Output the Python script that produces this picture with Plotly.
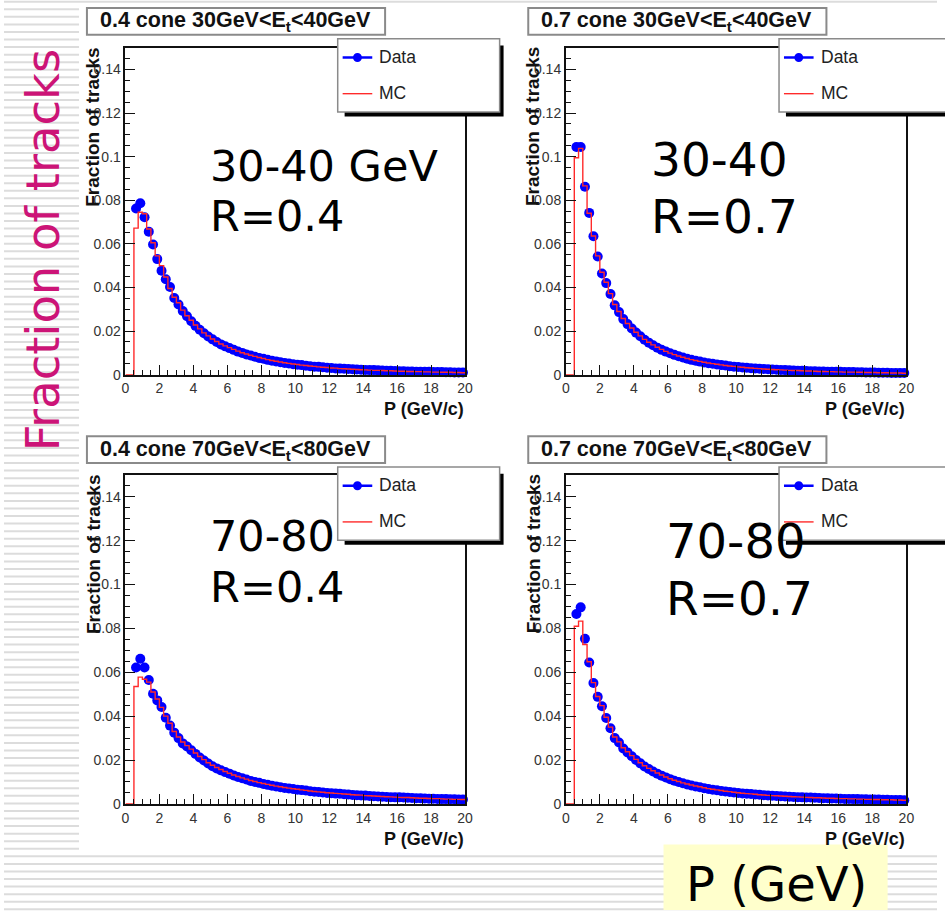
import numpy as np
import plotly.graph_objects as go

W, H = 945, 918

# Momentum binning (GeV/c): 0.25 GeV bins, first filled bin starts at 0.5
BIN_WIDTH = 0.25
P_FIRST = 0.5
P_LAST = 20.0

# ---- fraction of tracks per bin -------------------------------------------
data_r04_30_40 = [
    0.0762, 0.0786, 0.0722, 0.0656, 0.0597, 0.0530, 0.0477, 0.0438, 0.0402, 0.0352,
    0.0322, 0.0292, 0.0268, 0.0245, 0.0224, 0.0206, 0.0190, 0.0175, 0.0162, 0.0150,
    0.0139, 0.0130, 0.0122, 0.0114, 0.0106, 0.0100, 0.0093, 0.0088, 0.0082, 0.0077,
    0.0073, 0.0068, 0.0064, 0.0061, 0.0057, 0.0054, 0.0051, 0.0048, 0.0046, 0.0044,
    0.0041, 0.0039, 0.0037, 0.0036, 0.0034, 0.0032, 0.0031, 0.0029, 0.0028, 0.0027,
    0.0026, 0.0025, 0.0024, 0.0023, 0.0022, 0.0021, 0.0021, 0.0020, 0.0019, 0.0018,
    0.0018, 0.0017, 0.0016, 0.0016, 0.0015, 0.0015, 0.0014, 0.0014, 0.0013, 0.0013,
    0.0012, 0.0012, 0.0012, 0.0011, 0.0011, 0.0010, 0.0010, 0.0010,
]
mc_r04_30_40 = [
    0.0672, 0.0745, 0.0738, 0.0668, 0.0605, 0.0545, 0.0500, 0.0448, 0.0395, 0.0355,
    0.0330, 0.0296, 0.0270, 0.0250, 0.0228, 0.0210, 0.0192, 0.0178, 0.0164, 0.0152,
    0.0141, 0.0132, 0.0124, 0.0116, 0.0108, 0.0101, 0.0095, 0.0089, 0.0084, 0.0079,
    0.0074, 0.0069, 0.0065, 0.0062, 0.0058, 0.0055, 0.0052, 0.0049, 0.0047, 0.0044,
    0.0042, 0.0040, 0.0038, 0.0036, 0.0034, 0.0033, 0.0031, 0.0030, 0.0028, 0.0027,
    0.0026, 0.0025, 0.0024, 0.0023, 0.0022, 0.0021, 0.0020, 0.0020, 0.0019, 0.0018,
    0.0018, 0.0017, 0.0016, 0.0016, 0.0015, 0.0015, 0.0014, 0.0014, 0.0013, 0.0013,
    0.0012, 0.0012, 0.0011, 0.0011, 0.0011, 0.0010, 0.0010, 0.0009,
]
data_r07_30_40 = [
    0.1044, 0.1044, 0.0862, 0.0742, 0.0635, 0.0542, 0.0464, 0.0420, 0.0370, 0.0318,
    0.0287, 0.0255, 0.0232, 0.0212, 0.0193, 0.0176, 0.0160, 0.0147, 0.0135, 0.0124,
    0.0114, 0.0106, 0.0098, 0.0091, 0.0085, 0.0079, 0.0073, 0.0068, 0.0064, 0.0060,
    0.0056, 0.0053, 0.0050, 0.0047, 0.0044, 0.0042, 0.0039, 0.0037, 0.0035, 0.0033,
    0.0032, 0.0030, 0.0029, 0.0027, 0.0026, 0.0025, 0.0024, 0.0023, 0.0022, 0.0021,
    0.0020, 0.0019, 0.0018, 0.0018, 0.0017, 0.0016, 0.0016, 0.0015, 0.0015, 0.0014,
    0.0014, 0.0013, 0.0013, 0.0012, 0.0012, 0.0012, 0.0011, 0.0011, 0.0010, 0.0010,
    0.0010, 0.0009, 0.0009, 0.0009, 0.0008, 0.0008, 0.0008, 0.0008,
]
mc_r07_30_40 = [
    0.0995, 0.1038, 0.0866, 0.0740, 0.0636, 0.0545, 0.0470, 0.0424, 0.0372, 0.0322,
    0.0290, 0.0258, 0.0235, 0.0214, 0.0195, 0.0178, 0.0162, 0.0149, 0.0137, 0.0126,
    0.0116, 0.0107, 0.0099, 0.0092, 0.0086, 0.0080, 0.0074, 0.0069, 0.0065, 0.0061,
    0.0057, 0.0054, 0.0051, 0.0048, 0.0045, 0.0042, 0.0040, 0.0038, 0.0036, 0.0034,
    0.0032, 0.0031, 0.0029, 0.0028, 0.0026, 0.0025, 0.0024, 0.0023, 0.0022, 0.0021,
    0.0020, 0.0019, 0.0019, 0.0018, 0.0017, 0.0017, 0.0016, 0.0015, 0.0015, 0.0014,
    0.0014, 0.0013, 0.0013, 0.0012, 0.0012, 0.0012, 0.0011, 0.0011, 0.0010, 0.0010,
    0.0010, 0.0009, 0.0009, 0.0009, 0.0008, 0.0008, 0.0008, 0.0007,
]
data_r04_70_80 = [
    0.0622, 0.0662, 0.0622, 0.0565, 0.0502, 0.0472, 0.0442, 0.0393, 0.0357, 0.0325,
    0.0300, 0.0276, 0.0262, 0.0245, 0.0228, 0.0212, 0.0198, 0.0184, 0.0172, 0.0162,
    0.0153, 0.0145, 0.0138, 0.0130, 0.0123, 0.0117, 0.0111, 0.0105, 0.0100, 0.0096,
    0.0091, 0.0087, 0.0083, 0.0080, 0.0076, 0.0073, 0.0070, 0.0068, 0.0065, 0.0063,
    0.0061, 0.0058, 0.0056, 0.0054, 0.0052, 0.0050, 0.0049, 0.0047, 0.0046, 0.0044,
    0.0043, 0.0041, 0.0040, 0.0039, 0.0038, 0.0036, 0.0035, 0.0034, 0.0033, 0.0032,
    0.0031, 0.0030, 0.0030, 0.0029, 0.0028, 0.0027, 0.0026, 0.0026, 0.0025, 0.0024,
    0.0024, 0.0023, 0.0022, 0.0022, 0.0021, 0.0021, 0.0020, 0.0020,
]
mc_r04_70_80 = [
    0.0535, 0.0578, 0.0568, 0.0555, 0.0510, 0.0478, 0.0440, 0.0400, 0.0368, 0.0330,
    0.0305, 0.0282, 0.0266, 0.0250, 0.0232, 0.0216, 0.0202, 0.0188, 0.0176, 0.0166,
    0.0157, 0.0148, 0.0140, 0.0132, 0.0125, 0.0119, 0.0113, 0.0107, 0.0102, 0.0097,
    0.0093, 0.0089, 0.0085, 0.0081, 0.0078, 0.0075, 0.0072, 0.0069, 0.0067, 0.0064,
    0.0062, 0.0059, 0.0057, 0.0055, 0.0053, 0.0051, 0.0050, 0.0048, 0.0047, 0.0045,
    0.0044, 0.0042, 0.0041, 0.0040, 0.0038, 0.0037, 0.0036, 0.0035, 0.0034, 0.0033,
    0.0032, 0.0031, 0.0030, 0.0029, 0.0029, 0.0028, 0.0027, 0.0026, 0.0026, 0.0025,
    0.0024, 0.0024, 0.0023, 0.0022, 0.0022, 0.0021, 0.0021, 0.0020,
]
data_r07_70_80 = [
    0.0866, 0.0896, 0.0753, 0.0645, 0.0551, 0.0488, 0.0445, 0.0392, 0.0345, 0.0300,
    0.0280, 0.0253, 0.0235, 0.0217, 0.0200, 0.0185, 0.0171, 0.0159, 0.0148, 0.0138,
    0.0129, 0.0121, 0.0113, 0.0106, 0.0100, 0.0094, 0.0089, 0.0084, 0.0080, 0.0076,
    0.0072, 0.0068, 0.0065, 0.0062, 0.0059, 0.0057, 0.0054, 0.0052, 0.0050, 0.0048,
    0.0046, 0.0045, 0.0043, 0.0042, 0.0040, 0.0039, 0.0037, 0.0036, 0.0035, 0.0034,
    0.0033, 0.0032, 0.0031, 0.0030, 0.0029, 0.0029, 0.0028, 0.0027, 0.0026, 0.0026,
    0.0025, 0.0025, 0.0024, 0.0023, 0.0023, 0.0022, 0.0022, 0.0021, 0.0021, 0.0020,
    0.0020, 0.0020, 0.0019, 0.0019, 0.0018, 0.0018, 0.0018, 0.0017,
]
mc_r07_70_80 = [
    0.0810, 0.0833, 0.0727, 0.0648, 0.0553, 0.0490, 0.0448, 0.0395, 0.0350, 0.0305,
    0.0283, 0.0256, 0.0238, 0.0220, 0.0203, 0.0188, 0.0174, 0.0162, 0.0151, 0.0141,
    0.0132, 0.0123, 0.0115, 0.0108, 0.0102, 0.0096, 0.0091, 0.0086, 0.0082, 0.0078,
    0.0074, 0.0070, 0.0067, 0.0064, 0.0061, 0.0058, 0.0056, 0.0053, 0.0051, 0.0049,
    0.0047, 0.0046, 0.0044, 0.0042, 0.0041, 0.0039, 0.0038, 0.0037, 0.0036, 0.0035,
    0.0034, 0.0033, 0.0032, 0.0031, 0.0030, 0.0029, 0.0028, 0.0028, 0.0027, 0.0026,
    0.0026, 0.0025, 0.0024, 0.0024, 0.0023, 0.0023, 0.0022, 0.0022, 0.0021, 0.0021,
    0.0020, 0.0020, 0.0019, 0.0019, 0.0019, 0.0018, 0.0018, 0.0017,
]

panel_titles = [
    "0.4 cone 30GeV&lt;E<sub>t</sub>&lt;40GeV",
    "0.7 cone 30GeV&lt;E<sub>t</sub>&lt;40GeV",
    "0.4 cone 70GeV&lt;E<sub>t</sub>&lt;80GeV",
    "0.7 cone 70GeV&lt;E<sub>t</sub>&lt;80GeV",
]
panel_labels = [
    ("30-40 GeV", "R=0.4"),
    ("30-40", "R=0.7"),
    ("70-80", "R=0.4"),
    ("70-80", "R=0.7"),
]
y_tick_vals = [0, 0.02, 0.04, 0.06, 0.08, 0.10, 0.12, 0.14]
y_tick_text = ["0", "0.02", "0.04", "0.06", "0.08", "0.1", "0.12", "0.14"]
x_tick_vals = list(range(0, 21, 2))
legend_names = ["Data", "MC"]
y_title = "Fraction of tracks"
x_title = "P (GeV/c)"
slide_y_label = "Fraction of tracks"
slide_x_label = "P (GeV)"

series = [
    (data_r04_30_40, mc_r04_30_40),
    (data_r07_30_40, mc_r07_30_40),
    (data_r04_70_80, mc_r04_70_80),
    (data_r07_70_80, mc_r07_70_80),
]


def px(x):
    return x / W


def py(y):
    return 1 - y / H


# Pixel geometry of the four ROOT canvases: (x at P=0, x at P=20, y at 0, y at 0.15)
frames = [
    (123, 467, 378, 48),
    (569, 914, 378, 48),
    (123, 467, 811, 479),
    (569, 914, 811, 479),
]
# pixel offsets of each panel relative to the top-left one
offsets = [(0, 0), (447, 0), (0, 432), (447, 432)]

ROOT_FONT = "Liberation Sans, Arial, sans-serif"
SLIDE_FONT = "DejaVu Sans, Verdana, sans-serif"

fig = go.Figure()
layout_axes = {}
edges = np.arange(P_FIRST, P_LAST, BIN_WIDTH)

for i, (data_vals, mc_vals) in enumerate(series):
    n = i + 1
    xa = "x" if n == 1 else f"x{n}"
    ya = "y" if n == 1 else f"y{n}"
    centers = edges[: len(data_vals)] + BIN_WIDTH / 2
    fig.add_trace(go.Scatter(
        x=centers, y=data_vals, mode="markers", name=legend_names[0],
        marker=dict(color="#0000ff", size=10, line=dict(width=0)),
        xaxis=xa, yaxis=ya, showlegend=False, cliponaxis=False,
    ))
    hx = np.concatenate([[0.0], edges[: len(mc_vals)], [P_LAST]])
    hy = np.concatenate([[0.0], mc_vals, [mc_vals[-1]]])
    fig.add_trace(go.Scatter(
        x=hx, y=hy, mode="lines", name=legend_names[1],
        line=dict(color="#ff2a2a", width=1.4, shape="hv"),
        xaxis=xa, yaxis=ya, showlegend=False,
    ))

    x0, x1, yb, yt = frames[i]
    axis_common = dict(
        showline=True, linecolor="#111111", linewidth=1.6, mirror=True,
        ticks="inside", tickcolor="#111111", tickwidth=1.2, ticklen=10,
        showgrid=False, zeroline=False,
        tickfont=dict(family=ROOT_FONT, size=14, color="#333333"),
    )
    layout_axes["xaxis" if n == 1 else f"xaxis{n}"] = dict(
        axis_common, domain=[px(x0), px(x1)], range=[0, 20],
        anchor=ya, tickvals=x_tick_vals,
        minor=dict(dtick=0.5, ticks="inside", ticklen=5, tickcolor="#111111", tickwidth=1),
    )
    layout_axes["yaxis" if n == 1 else f"yaxis{n}"] = dict(
        axis_common, domain=[py(yb), py(yt)], range=[0, 0.15],
        anchor=xa, tickvals=y_tick_vals, ticktext=y_tick_text,
        minor=dict(dtick=0.005, ticks="inside", ticklen=5, tickcolor="#111111", tickwidth=1),
    )

shapes = []
annotations = []

# Slide background: thin horizontal grey rules
for yy in np.arange(917.3, -2, -7.63):
    shapes.append(dict(type="line", xref="paper", yref="paper", layer="below",
                       x0=0, x1=1, y0=py(yy), y1=py(yy),
                       line=dict(color="#dcdcdc", width=2)))
# White area of the pasted ROOT canvas
shapes.append(dict(type="rect", xref="paper", yref="paper", layer="below",
                   x0=px(76), x1=1.0, y0=py(860), y1=py(5),
                   fillcolor="white", line=dict(width=0)))
# Yellow box behind the slide's x label
shapes.append(dict(type="rect", xref="paper", yref="paper", layer="below",
                   x0=px(668), x1=px(895), y0=py(918), y1=py(852),
                   fillcolor="#ffffcc", line=dict(width=0)))

for i in range(4):
    dx, dy = offsets[i]
    x0, x1, yb, yt = frames[i]

    # title pave
    shapes.append(dict(type="rect", xref="paper", yref="paper", layer="above",
                       x0=px(84 + dx), x1=px(386 + dx), y0=py(35 + dy), y1=py(8 + dy),
                       fillcolor="white", line=dict(color="#8a8a8a", width=2)))
    annotations.append(dict(xref="paper", yref="paper", x=px(234 + dx), y=py(22 + dy),
                            text=f"<b>{panel_titles[i]}</b>", showarrow=False,
                            xanchor="center", yanchor="middle", borderpad=0,
                            font=dict(family=ROOT_FONT, size=21.5, color="#111111")))

    # legend: shadow, box, symbols and labels
    lx0, ly0 = 338 + dx, 39 + dy
    lx1 = 502 if dx == 0 else 990
    ly1 = 113 + dy
    shapes.append(dict(type="rect", xref="paper", yref="paper", layer="above",
                       x0=px(lx0 + 7), x1=px(lx1 + 4), y0=py(ly1 + 4.5), y1=py(ly0 + 7),
                       fillcolor="#000000", line=dict(width=0)))
    shapes.append(dict(type="rect", xref="paper", yref="paper", layer="above",
                       x0=px(lx0), x1=px(lx1), y0=py(ly1), y1=py(ly0),
                       fillcolor="white", line=dict(color="#8a8a8a", width=1.5)))
    shapes.append(dict(type="line", xref="paper", yref="paper", layer="above",
                       x0=px(343 + dx), x1=px(373 + dx), y0=py(58 + dy), y1=py(58 + dy),
                       line=dict(color="#0000ff", width=2.5)))
    shapes.append(dict(type="circle", xref="paper", yref="paper", layer="above",
                       x0=px(353.5 + dx), x1=px(362.5 + dx), y0=py(62.5 + dy), y1=py(53.5 + dy),
                       fillcolor="#0000ff", line=dict(width=0)))
    shapes.append(dict(type="line", xref="paper", yref="paper", layer="above",
                       x0=px(343 + dx), x1=px(373 + dx), y0=py(94.5 + dy), y1=py(94.5 + dy),
                       line=dict(color="#ff2a2a", width=1.4)))
    for name, base in zip(legend_names, (63, 100)):
        annotations.append(dict(xref="paper", yref="paper", x=px(379 + dx),
                                y=py(base + dy - 0.35 * 17), text=name, showarrow=False,
                                xanchor="left", yanchor="middle", borderpad=0,
                                font=dict(family=ROOT_FONT, size=17.5, color="#222222")))

    # axis titles
    annotations.append(dict(xref="paper", yref="paper", x=px(x0 - 33), y=py(yt + 80),
                            text=f"<b>{y_title}</b>", showarrow=False, textangle=-90,
                            xanchor="center", yanchor="middle", borderpad=0,
                            font=dict(family=ROOT_FONT, size=19, color="#111111")))
    annotations.append(dict(xref="paper", yref="paper", x=px(x1), y=py(yb + 35),
                            text=f"<b>{x_title}</b>", showarrow=False,
                            xanchor="right", yanchor="middle", borderpad=0,
                            font=dict(family=ROOT_FONT, size=18, color="#111111")))

# Large slide annotations over each panel: (left, baseline, size)
label_pos = [
    ((208, 182, 43), (208, 233, 43)),
    ((654, 177, 47), (654, 235, 47)),
    ((208, 556, 43), (208, 607, 43)),
    ((670, 562, 48), (670, 620, 47)),
]
for (l1, l2), pos in zip(panel_labels, label_pos):
    for text, (lx, base, size) in zip((l1, l2), pos):
        annotations.append(dict(xref="paper", yref="paper", x=px(lx), y=py(base - 0.346 * size),
                                text=text, showarrow=False, xanchor="left", yanchor="middle",
                                borderpad=0, font=dict(family=SLIDE_FONT, size=size, color="#000000")))

annotations.append(dict(xref="paper", yref="paper", x=px(39), y=py(252),
                        text=slide_y_label, showarrow=False, textangle=-90,
                        xanchor="center", yanchor="middle", borderpad=0,
                        font=dict(family=SLIDE_FONT, size=46.5, color="#cc1477")))
annotations.append(dict(xref="paper", yref="paper", x=px(690), y=py(908 - 0.346 * 48),
                        text=slide_x_label, showarrow=False, xanchor="left", yanchor="middle",
                        borderpad=0, font=dict(family=SLIDE_FONT, size=48, color="#000000")))

fig.update_layout(
    width=W, height=H, margin=dict(l=0, r=0, t=0, b=0),
    paper_bgcolor="white", plot_bgcolor="rgba(0,0,0,0)",
    showlegend=False, shapes=shapes, annotations=annotations,
    **layout_axes,
)

fig.write_html("out.html")
